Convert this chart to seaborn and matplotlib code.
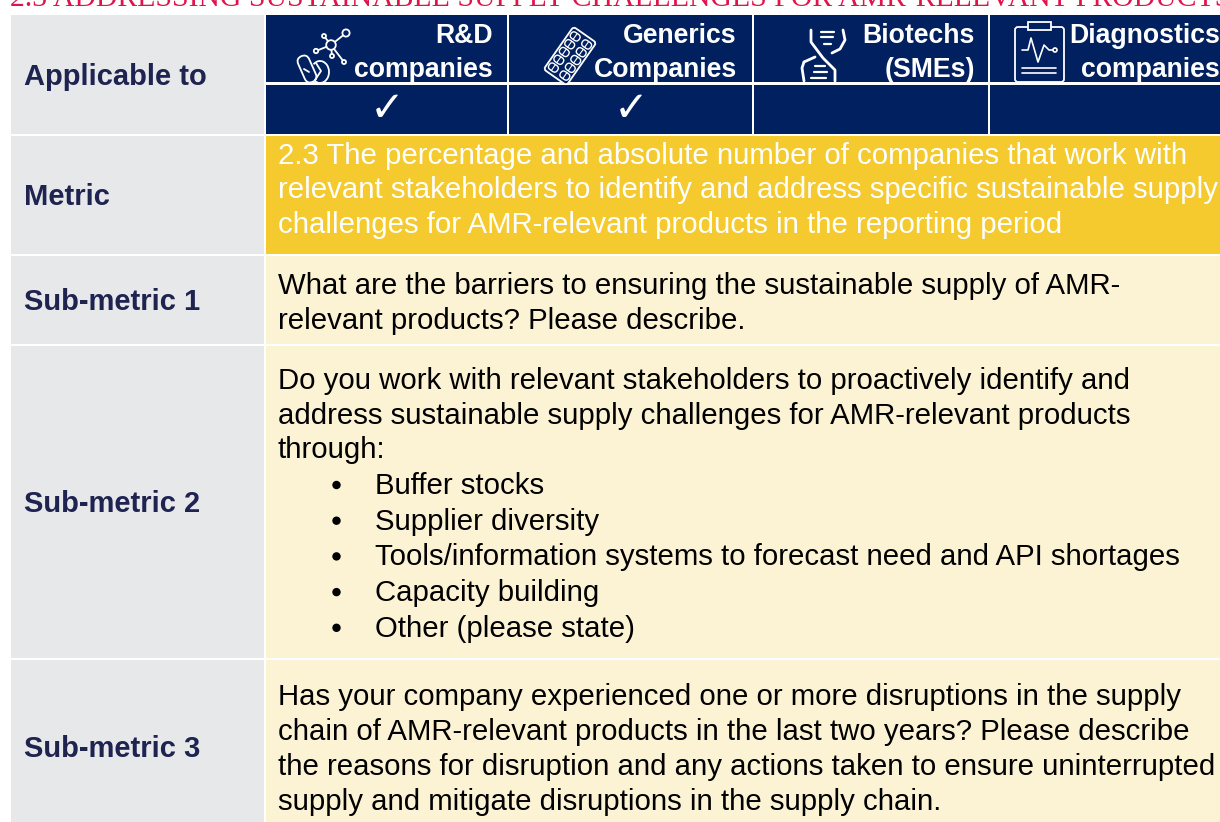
import numpy as np
import seaborn as sns
import matplotlib
matplotlib.use("Agg")
import matplotlib.pyplot as plt
from matplotlib.patches import Rectangle, Circle, FancyBboxPatch, Arc
from matplotlib.transforms import Affine2D

sns.set_theme(style="white")
plt.rcParams['font.family'] = ['Liberation Sans', 'DejaVu Sans']

TITLE = "2.3 ADDRESSING SUSTAINABLE SUPPLY CHALLENGES FOR AMR-RELEVANT PRODUCTS"
row_labels = ["Applicable to", "Metric", "Sub-metric 1", "Sub-metric 2", "Sub-metric 3"]
header_line1 = ["R&D", "Generics", "Biotechs", "Diagnostics"]
header_line2 = ["companies", "Companies", "(SMEs)", "companies"]
applicable = [True, True, False, False]
metric_lines = ["2.3 The percentage and absolute number of companies that work with",
                "relevant stakeholders to identify and address specific sustainable supply",
                "challenges for AMR-relevant products in the reporting period"]
sub1_lines = ["What are the barriers to ensuring the sustainable supply of AMR-",
              "relevant products? Please describe."]
sub2_lines = ["Do you work with relevant stakeholders to proactively identify and",
              "address sustainable supply challenges for AMR-relevant products",
              "through:"]
sub2_bullets = ["Buffer stocks", "Supplier diversity",
                "Tools/information systems to forecast need and API shortages",
                "Capacity building", "Other (please state)"]
sub3_lines = ["Has your company experienced one or more disruptions in the supply",
              "chain of AMR-relevant products in the last two years? Please describe",
              "the reasons for disruption and any actions taken to ensure uninterrupted",
              "supply and mitigate disruptions in the supply chain."]

NAVY, YELLOW, CREAM, GREY = "#002060", "#F4CA2E", "#FCF3D4", "#E7E8EA"
INK, RED = "#1F2350", "#E0144C"
FS, FSB, FSH = 21.2, 21.0, 19.2

fig = plt.figure(figsize=(12.2, 8.22), dpi=100, facecolor="white")
ax = fig.add_axes([0, 0, 1, 1])
ax.set_xlim(0, 1220)
ax.set_ylim(822, 0)
ax.axis("off")


def cell(x0, y0, x1, y1, c):
    ax.add_patch(Rectangle((x0, y0), x1 - x0, y1 - y0, fc=c, ec="none", zorder=1))


ax.text(10, 5.5, TITLE, family="Liberation Serif", fontsize=21.4, color=RED, va="baseline", ha="left", zorder=3)

# left column
row_spans = [(15, 134), (136, 254), (256, 344), (346, 658), (660, 822)]
row_text_y = [77, 197, 302, 504, 749]
for (y0, y1), ty, lab in zip(row_spans, row_text_y, row_labels):
    cell(11, y0, 264, y1, GREY)
    ax.text(24, ty, lab, fontsize=FSB, fontweight="bold", color=INK, va="center", ha="left", zorder=3)

# header
col_spans = [(266, 507), (509, 752), (754, 988), (990, 1220)]
col_right = [493, 737, 975, 1220]
check_x = [387, 631]
for i, (x0, x1) in enumerate(col_spans):
    cell(x0, 15, x1, 82, NAVY)
    cell(x0, 85, x1, 134, NAVY)
    ax.text(col_right[i], 36, header_line1[i], fontsize=FSH, fontweight="bold", color="white", va="center", ha="right", zorder=3)
    ax.text(col_right[i], 70, header_line2[i], fontsize=FSH, fontweight="bold", color="white", va="center", ha="right", zorder=3)
    if applicable[i]:
        ax.text(check_x[i], 109, "\u2713", family="DejaVu Sans", fontsize=30, fontweight="bold", color="white", va="center", ha="center", zorder=3)

# body
cell(266, 136, 1220, 254, YELLOW)
for (y0, y1) in row_spans[2:]:
    cell(266, y0, 1220, y1, CREAM)


def lines(items, y0, color="black", x=278, step=34.7):
    for k, s in enumerate(items):
        ax.text(x, y0 + k * step, s, fontsize=FS, color=color, va="center", ha="left", zorder=3)


lines(metric_lines, 156, color="white", step=34.5)
lines(sub1_lines, 286, step=34.5)
lines(sub2_lines, 381, step=34.5)
lines(sub2_bullets, 486, x=375, step=35.7)
for k in range(len(sub2_bullets)):
    ax.add_patch(Circle((336.5, 485 + k * 35.7), 4.2, fc="black", ec="none", zorder=3))
lines(sub3_lines, 697, step=35)

# icons
lw = 1.3
W = dict(color="white", lw=lw, zorder=4, solid_capstyle="round")


def ring(x, y, r, lw_=lw):
    ax.add_patch(Circle((x, y), r, fc="none", ec="white", lw=lw_, zorder=4))


# molecule + pill
hub = (331, 45)
for nx, ny, r in [(346, 33, 3.6), (324, 36, 2), (316, 51, 2.2), (332, 56, 2), (344, 62, 2)]:
    ax.plot([hub[0], nx], [hub[1], ny], **W)
    ax.add_patch(Circle((nx, ny), r, fc=NAVY, ec="white", lw=lw, zorder=5))
ax.add_patch(Circle(hub, 4.8, fc=NAVY, ec="white", lw=lw, zorder=5))
ax.add_patch(FancyBboxPatch((-6, -14), 12, 28, boxstyle="round,pad=0,rounding_size=6", fc=NAVY, ec="white", lw=lw, zorder=5,
                            transform=Affine2D().rotate_deg(-24).translate(307, 69) + ax.transData))
ax.add_patch(Arc((320, 72), 18, 22, theta1=-130, theta2=120, ec="white", lw=lw, zorder=5))
ax.plot([316, 321, 315], [63, 71, 80], **{**W, "zorder": 5})
ax.plot([304, 309], [69, 72], **{**W, "zorder": 6})

# blister pack
T = Affine2D().rotate_deg(35).translate(570, 56) + ax.transData
ax.add_patch(FancyBboxPatch((-14, -26), 28, 52, boxstyle="round,pad=0,rounding_size=3", fc=NAVY, ec="white", lw=lw, zorder=4, transform=T))
for px in (-7, 7):
    for py in (-19, -9.5, 0, 9.5, 19):
        ax.add_patch(FancyBboxPatch((px - 5, py - 3.6), 10, 7.2, boxstyle="round,pad=0,rounding_size=3.5", fc=NAVY, ec="white", lw=1.0, zorder=5, transform=T))
        ax.plot([px, px], [py - 3.6, py + 3.6], color="white", lw=0.8, zorder=6, transform=T)

# DNA
ax.plot([811, 811, 823, 835, 835], [30, 42, 58, 70, 81], color="white", lw=2, zorder=4)
ax.plot([843, 845, 840, 832], [30, 40, 49, 53], color="white", lw=2, zorder=4)
ax.plot([804, 802, 804], [81, 68, 62], color="white", lw=2, zorder=4)
ax.plot([804, 815], [62, 57], color="white", lw=2, zorder=4)
for bx0, bx1, by in [(821, 834, 32), (821, 833, 37), (824, 831, 44), (815, 825, 66), (814, 827, 72), (811, 826, 78)]:
    ax.plot([bx0, bx1], [by, by], color="white", lw=1.6, zorder=4)

# clipboard
ax.add_patch(FancyBboxPatch((1015, 27), 49, 55, boxstyle="round,pad=0,rounding_size=3", fc=NAVY, ec="white", lw=lw, zorder=4))
ax.add_patch(Rectangle((1028, 22), 23, 8, fc=NAVY, ec="white", lw=lw, zorder=5))
ring(1040, 25, 1.5, 1.0)
ax.plot([1022, 1028, 1031, 1038, 1044, 1049, 1053], [50, 50, 38, 62, 45, 50, 50], color="white", lw=1.2, zorder=5)
ax.add_patch(Circle((1055, 50), 2, fc=NAVY, ec="white", lw=1.2, zorder=5))
ax.plot([1022, 1056], [68, 68], color="white", lw=1.2, zorder=5)
ax.plot([1022, 1056], [73, 73], color="white", lw=1.2, zorder=5)

fig.savefig("out.png", dpi=100, facecolor="white")
